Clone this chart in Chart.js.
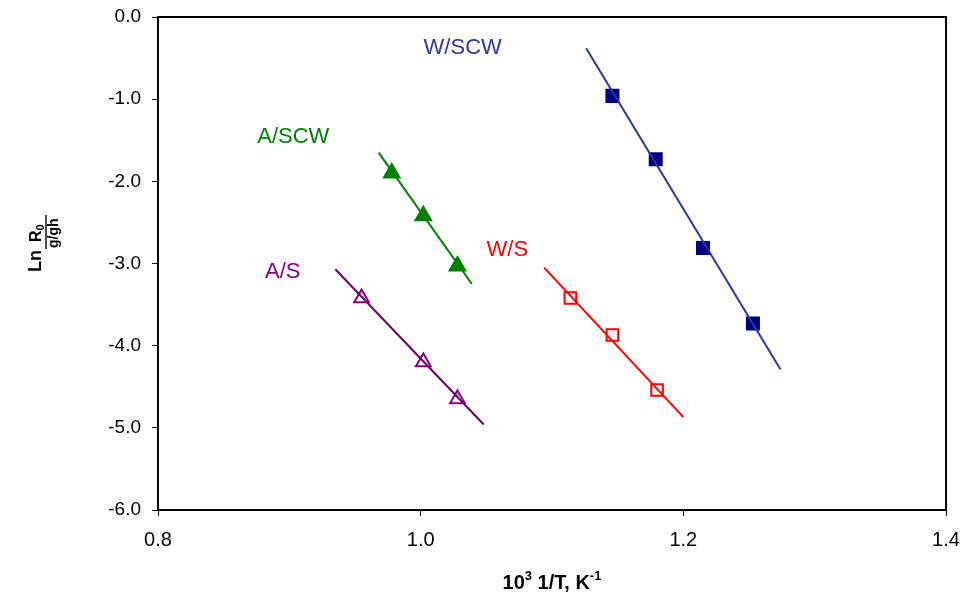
<!DOCTYPE html>
<html>
<head>
<meta charset="utf-8">
<script src="https://cdn.jsdelivr.net/npm/chart.js@4.4.0/dist/chart.umd.min.js"></script>
<style>
    html, body { margin: 0; padding: 0; background: #fff; }
    #wrap { width: 964px; height: 601px; }
</style>
</head>
<body>
<div id="wrap"><canvas id="chart" width="964" height="601"></canvas></div>
<script>
// measured points (10^3/T, ln R0)
const wscwX = [1.146, 1.179, 1.215, 1.253];
const wscwY = [-0.96, -1.73, -2.81, -3.73];
const wsX = [1.114, 1.146, 1.180];
const wsY = [-3.42, -3.87, -4.54];
const ascwX = [0.978, 1.002, 1.028];
const ascwY = [-1.90, -2.42, -3.03];
const asX = [0.955, 1.002, 1.028];
const asY = [-3.42, -4.20, -4.65];

// fitted lines (end points)
const wscwFitX = [1.126, 1.274];
const wscwFitY = [-0.38, -4.29];
const wsFitX = [1.094, 1.200];
const wsFitY = [-3.05, -4.87];
const ascwFitX = [0.968, 1.039];
const ascwFitY = [-1.65, -3.25];
const asFitX = [0.935, 1.048];
const asFitY = [-3.07, -4.96];

// series labels
const labelNames = ['W/SCW', 'A/SCW', 'W/S', 'A/S'];
const labelX = [1.032, 0.903, 1.066, 0.895];
const labelY = [-0.38, -1.46, -2.83, -3.10];
const labelColors = ['#333399', '#008000', '#ff0000', '#800080'];

const xTicks = [0.8, 1.0, 1.2, 1.4];
const yTicks = [0, -1, -2, -3, -4, -5, -6];

const FONT = '"Liberation Sans", Arial, sans-serif';

function pts(xs, ys) {
    return xs.map((x, i) => ({ x: x, y: ys[i] }));
}

function fitLine(xs, ys, color) {
    return {
        data: pts(xs, ys),
        showLine: true,
        borderColor: color,
        borderWidth: 2,
        pointRadius: 0,
        fill: false
    };
}

function markers(xs, ys, style, radius, fillColor, lineColor) {
    return {
        data: pts(xs, ys),
        showLine: false,
        pointStyle: style,
        pointRadius: radius,
        pointBackgroundColor: fillColor,
        pointBorderColor: lineColor,
        pointBorderWidth: 2
    };
}

// no extra room for overhanging tick labels
function noOverhang(s) {
    s.paddingLeft = 0;
    s.paddingRight = 0;
    s.paddingTop = 0;
    s.paddingBottom = 0;
}

// labels, frame and axis titles
const extras = {
    id: 'extras',
    afterDraw(chart) {
        const ctx = chart.ctx;
        const xs = chart.scales.x;
        const ys = chart.scales.y;
        const a = chart.chartArea;

        ctx.save();
        ctx.strokeStyle = '#000';
        ctx.lineWidth = 2;
        ctx.strokeRect(a.left, a.top, a.right - a.left, a.bottom - a.top);

        ctx.font = '22px ' + FONT;
        ctx.textAlign = 'center';
        ctx.textBaseline = 'middle';
        labelNames.forEach((name, i) => {
            ctx.fillStyle = labelColors[i];
            ctx.fillText(name, xs.getPixelForValue(labelX[i]), ys.getPixelForValue(labelY[i]));
        });

        // x title: 10^3 1/T, K^-1
        ctx.fillStyle = '#000';
        ctx.textAlign = 'left';
        ctx.textBaseline = 'alphabetic';
        const big = 'bold 20px ' + FONT;
        const small = 'bold 13px ' + FONT;
        const parts = [['10', big, 0], ['3', small, -9], [' 1/T, K', big, 0], ['-1', small, -9]];
        let w = 0;
        parts.forEach(p => { ctx.font = p[1]; w += ctx.measureText(p[0]).width; });
        let x = (a.left + a.right) / 2 - w / 2;
        parts.forEach(p => {
            ctx.font = p[1];
            ctx.fillText(p[0], x, 589 + p[2]);
            x += ctx.measureText(p[0]).width;
        });

        // y title: Ln (R0 / g/gh), rotated
        ctx.translate(46, 272);
        ctx.rotate(-Math.PI / 2);
        ctx.font = 'bold 18px ' + FONT;
        ctx.fillText('Ln', 0, -5);
        ctx.fillRect(23, -0.7, 34, 1.4);
        ctx.font = 'bold 16px ' + FONT;
        const rw = ctx.measureText('R').width;
        ctx.fillText('R', 30, -5);
        ctx.font = 'bold 11px ' + FONT;
        ctx.fillText('0', 30 + rw, -2);
        ctx.font = 'bold 14px ' + FONT;
        ctx.fillText('g/gh', 24, 12);
        ctx.restore();
    }
};

new Chart(document.getElementById('chart'), {
    type: 'scatter',
    data: {
        datasets: [
            fitLine(wscwFitX, wscwFitY, '#333399'),
            fitLine(wsFitX, wsFitY, '#ff0000'),
            fitLine(ascwFitX, ascwFitY, '#008000'),
            fitLine(asFitX, asFitY, '#660066'),
            markers(wscwX, wscwY, 'rect', 8.5, '#000080', '#000080'),
            markers(wsX, wsY, 'rect', 8.2, '#ffffff', '#ff0000'),
            markers(ascwX, ascwY, 'triangle', 9, '#008000', '#008000'),
            markers(asX, asY, 'triangle', 8.5, '#ffffff', '#800080')
        ]
    },
    options: {
        responsive: false,
        animation: false,
        layout: { padding: { top: 17, right: 18, left: 0, bottom: 0 } },
        plugins: {
            legend: { display: false },
            tooltip: { enabled: false }
        },
        scales: {
            x: {
                type: 'linear',
                min: 0.8,
                max: 1.4,
                afterBuildTicks: s => { s.ticks = xTicks.map(v => ({ value: v })); },
                afterFit: s => { s.height = 91; noOverhang(s); },
                ticks: {
                    color: '#000',
                    padding: 12,
                    font: { size: 20, family: FONT },
                    callback: v => v.toFixed(1)
                },
                grid: { drawOnChartArea: false, drawTicks: true, tickLength: 6, color: '#000', lineWidth: 1 },
                border: { display: true, color: '#000', width: 2 }
            },
            y: {
                type: 'linear',
                min: -6,
                max: 0,
                afterBuildTicks: s => { s.ticks = yTicks.map(v => ({ value: v })); },
                afterFit: s => { s.width = 158; noOverhang(s); },
                ticks: {
                    color: '#000',
                    padding: 11,
                    font: { size: 19, family: FONT },
                    callback: v => v.toFixed(1)
                },
                grid: { drawOnChartArea: false, drawTicks: true, tickLength: 6, color: '#000', lineWidth: 1 },
                border: { display: true, color: '#000', width: 2 }
            }
        }
    },
    plugins: [extras]
});
</script>
</body>
</html>
